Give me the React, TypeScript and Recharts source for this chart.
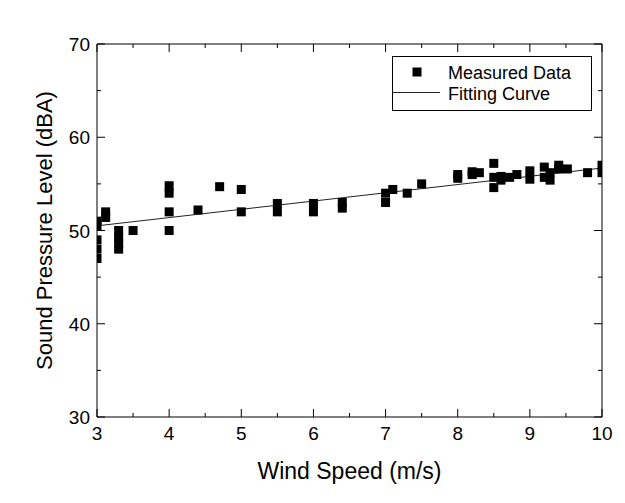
import { ScatterChart, Scatter, XAxis, YAxis, Legend } from 'recharts';

// measured points, read column by column
const windSpeed = [
  3, 3, 3, 3, 3,
  3.12, 3.12,
  3.3, 3.3, 3.3, 3.3,
  3.5,
  4, 4, 4, 4,
  4.4, 4.7, 5, 5,
  5.5, 5.5, 6, 6, 6.4, 6.4,
  7, 7, 7.1, 7.3, 7.5,
  8, 8, 8.2, 8.2, 8.3,
  8.5, 8.5, 8.5, 8.6, 8.6, 8.72, 8.82,
  9, 9, 9.2, 9.2, 9.28, 9.28, 9.4, 9.4, 9.52, 9.8, 10, 10,
];
const soundLevel = [
  51.0, 50.5, 49.0, 48.0, 47.0,
  52.0, 51.4,
  50.0, 49.3, 48.6, 48.0,
  50.0,
  54.8, 54.0, 52.0, 50.0,
  52.2, 54.7, 54.4, 52.0,
  52.9, 52.0, 52.9, 52.0, 53.0, 52.4,
  54.0, 53.0, 54.4, 54.0, 55.0,
  56.0, 55.6, 56.3, 56.0, 56.2,
  57.2, 55.7, 54.6, 55.8, 55.4, 55.7, 56.0,
  56.4, 55.5, 56.8, 55.7, 56.2, 55.4, 57.0, 56.6, 56.6, 56.2, 57.0, 56.2,
];

// linear fit endpoints
const fitSpeed = [3, 10];
const fitLevel = [50.5, 56.7];

const xTicks = [3, 3.5, 4, 4.5, 5, 5.5, 6, 6.5, 7, 7.5, 8, 8.5, 9, 9.5, 10];
const yTicks = [30, 35, 40, 45, 50, 55, 60, 65, 70];

const measured = windSpeed.map((x, i) => ({ x, y: soundLevel[i] }));
const fit = fitSpeed.map((x, i) => ({ x, y: fitLevel[i] }));

const FONT = '"Liberation Sans", Arial, sans-serif';
const MAJOR = 8;
const MINOR = 4;

const BottomTick = ({ x, y, payload }: any) => {
  const major = Number.isInteger(payload.value);
  return (
    <g>
      <line x1={x} x2={x} y1={y} y2={y - (major ? MAJOR : MINOR)} stroke="#000" strokeWidth={1} />
      {major && (
        <text x={x} y={y + 23} textAnchor="middle" fontSize={19} fontFamily={FONT} fill="#000">
          {payload.value}
        </text>
      )}
    </g>
  );
};

const TopTick = ({ x, y, payload }: any) => {
  const major = Number.isInteger(payload.value);
  return <line x1={x} x2={x} y1={y} y2={y + (major ? MAJOR : MINOR)} stroke="#000" strokeWidth={1} />;
};

const LeftTick = ({ x, y, payload }: any) => {
  const major = payload.value % 10 === 0;
  return (
    <g>
      <line x1={x} x2={x + (major ? MAJOR : MINOR)} y1={y} y2={y} stroke="#000" strokeWidth={1} />
      {major && (
        <text x={x - 7} y={y + 7} textAnchor="end" fontSize={19} fontFamily={FONT} fill="#000">
          {payload.value}
        </text>
      )}
    </g>
  );
};

const RightTick = ({ x, y, payload }: any) => {
  const major = payload.value % 10 === 0;
  return <line x1={x} x2={x - (major ? MAJOR : MINOR)} y1={y} y2={y} stroke="#000" strokeWidth={1} />;
};

const SquareDot = ({ cx, cy }: any) => (
  <rect x={cx - 4.5} y={cy - 4.5} width={9} height={9} fill="#000" />
);

const NoDot = () => <g />;

const LegendBox = () => (
  <svg width={200} height={55} style={{ display: 'block' }}>
    <rect x={0.5} y={0.5} width={199} height={54} fill="#fff" stroke="#000" />
    <rect x={20.5} y={11.5} width={9} height={9} fill="#000" />
    <text x={56} y={22.5} fontSize={18} fontFamily={FONT} fill="#000">Measured Data</text>
    <line x1={0} x2={48} y1={36.5} y2={36.5} stroke="#222" />
    <text x={56} y={43.5} fontSize={18} fontFamily={FONT} fill="#000">Fitting Curve</text>
  </svg>
);

export default function App() {
  return (
    <div style={{ position: 'absolute', left: 0, top: 0, background: '#fff' }}>
      <ScatterChart
        width={625}
        height={503}
        margin={{ top: 43, right: 22, left: 0, bottom: 0 }}
        style={{ fontFamily: FONT }}
      >
        <XAxis
          dataKey="x"
          type="number"
          domain={[3, 10]}
          ticks={xTicks}
          interval={0}
          allowDataOverflow
          height={86}
          tickSize={0}
          tickMargin={0}
          tickLine={false}
          axisLine={{ stroke: '#000' }}
          tick={<BottomTick />}
          label={{
            content: ({ viewBox }: any) => (
              <text
                x={viewBox.x + viewBox.width / 2}
                y={viewBox.y + 62}
                textAnchor="middle"
                fontSize={23}
                fontFamily={FONT}
                fill="#000"
              >
                Wind Speed (m/s)
              </text>
            ),
          }}
        />
        <XAxis
          xAxisId="top"
          dataKey="x"
          orientation="top"
          type="number"
          domain={[3, 10]}
          ticks={xTicks}
          interval={0}
          height={1}
          tickSize={0}
          tickMargin={0}
          tickLine={false}
          axisLine={{ stroke: '#000' }}
          tick={<TopTick />}
        />
        <YAxis
          dataKey="y"
          type="number"
          domain={[30, 70]}
          ticks={yTicks}
          interval={0}
          width={97}
          tickSize={0}
          tickMargin={0}
          tickLine={false}
          axisLine={{ stroke: '#000' }}
          tick={<LeftTick />}
          label={{
            content: ({ viewBox }: any) => {
              const cx = 44;
              const cy = viewBox.y + viewBox.height / 2;
              return (
                <text
                  x={cx}
                  y={cy}
                  transform={`rotate(-90 ${cx} ${cy})`}
                  textAnchor="middle"
                  dominantBaseline="central"
                  fontSize={22}
                  fontFamily={FONT}
                  fill="#000"
                >
                  Sound Pressure Level (dBA)
                </text>
              );
            },
          }}
        />
        <YAxis
          yAxisId="right"
          dataKey="y"
          orientation="right"
          type="number"
          domain={[30, 70]}
          ticks={yTicks}
          interval={0}
          width={1}
          tickSize={0}
          tickMargin={0}
          tickLine={false}
          axisLine={{ stroke: '#000' }}
          tick={<RightTick />}
        />
        <Legend
          layout="horizontal"
          verticalAlign="middle"
          align="center"
          wrapperStyle={{ left: 392, top: 56, width: 200 }}
          content={<LegendBox />}
        />
        {/* fit drawn on the top/right axes (same domains) so the frame axes render */}
        <Scatter
          name="Fitting Curve"
          data={fit}
          xAxisId="top"
          yAxisId="right"
          line={{ stroke: '#222', strokeWidth: 1 }}
          lineType="joint"
          shape={<NoDot />}
          isAnimationActive={false}
        />
        <Scatter
          name="Measured Data"
          data={measured}
          fill="#000"
          shape={<SquareDot />}
          isAnimationActive={false}
        />
      </ScatterChart>
    </div>
  );
}
